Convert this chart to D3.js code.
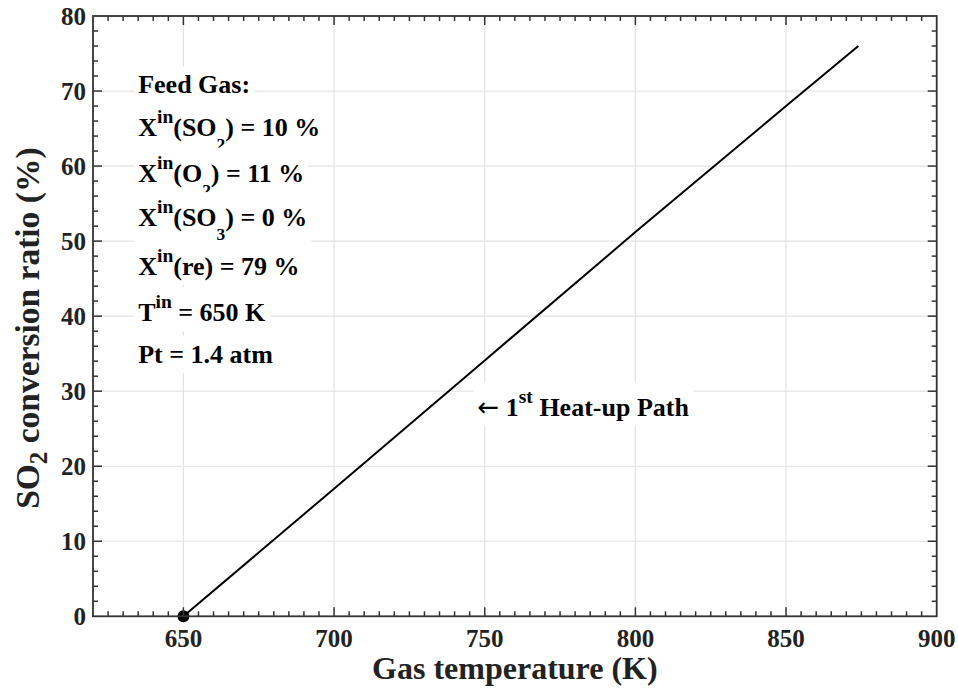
<!DOCTYPE html>
<html>
<head>
<meta charset="utf-8">
<script src="https://cdn.jsdelivr.net/npm/d3@7"></script>
<style>
  html, body { margin: 0; padding: 0; background: #fff; }
  svg { display: block; }
  text { font-family: "Liberation Serif", "Times New Roman", Times, serif; font-weight: bold; }
</style>
</head>
<body>
<svg id="chart" width="958" height="691"></svg>
<script>
// Heat-up path: gas temperature (K) vs SO2 conversion ratio (%)
const temperature = [650, 700, 750, 800, 850, 874];
const conversion  = [0, 17.0, 34.1, 51.2, 68.0, 76.0];

// Inlet state marker
const startPoint = { t: 650, x: 0 };

const xTicks = [650, 700, 750, 800, 850, 900];
const yTicks = [0, 10, 20, 30, 40, 50, 60, 70, 80];

// Feed-gas annotation lines: segments, with sup/sub flags
const feedLines = [
  [{ s: "Feed Gas:" }],
  [{ s: "X" }, { s: "in", sup: true }, { s: "(SO" }, { s: "2", sub: true }, { s: ") = 10 %" }],
  [{ s: "X" }, { s: "in", sup: true }, { s: "(O" }, { s: "2", sub: true }, { s: ") = 11 %" }],
  [{ s: "X" }, { s: "in", sup: true }, { s: "(SO" }, { s: "3", sub: true }, { s: ") = 0 %" }],
  [{ s: "X" }, { s: "in", sup: true }, { s: "(re) = 79 %" }],
  [{ s: "T" }, { s: "in", sup: true }, { s: " = 650 K" }],
  [{ s: "Pt = 1.4 atm" }]
];
// anchor of each line (temperature, conversion) at text baseline
const feedAnchorT = 635;
const feedAnchorY = [69.7, 64.0, 57.9, 52.0, 45.5, 39.3, 33.8];

const pathLabel = [{ s: "\u2190", arrow: true }, { s: " 1" }, { s: "st", sup: true }, { s: " Heat-up Path" }];
const pathLabelAt = { t: 747.6, x: 26.7 };

const W = 958, H = 691;
const margin = { top: 16, right: 21.3, bottom: 74.7, left: 93 };
const iw = W - margin.left - margin.right;
const ih = H - margin.top - margin.bottom;

const svg = d3.select("#chart");
const g = svg.append("g").attr("transform", `translate(${margin.left},${margin.top})`);

const x = d3.scaleLinear().domain([620, 900]).range([0, iw]);
const y = d3.scaleLinear().domain([0, 80]).range([ih, 0]);

// grid
g.append("g").selectAll("line").data(xTicks.filter(d => d < 900)).join("line")
  .attr("x1", d => x(d)).attr("x2", d => x(d)).attr("y1", 0).attr("y2", ih)
  .attr("stroke", "#e3e3e3").attr("stroke-width", 1.2);
g.append("g").selectAll("line").data(yTicks.filter(d => d > 0 && d < 80)).join("line")
  .attr("x1", 0).attr("x2", iw).attr("y1", d => y(d)).attr("y2", d => y(d))
  .attr("stroke", "#e3e3e3").attr("stroke-width", 1.2);

// data line
const line = d3.line().x((d, i) => x(temperature[i])).y((d, i) => y(conversion[i]));
g.append("path").datum(conversion).attr("d", line)
  .attr("fill", "none").attr("stroke", "#000").attr("stroke-width", 2);

// rich-text label with white backing box
function richLabel(parent, segs, px, py, size) {
  const grp = parent.append("g");
  const rect = grp.append("rect").attr("fill", "#fff");
  const t = grp.append("text").attr("x", px).attr("y", py)
    .attr("font-size", size).attr("fill", "#000");
  let shift = 0;
  segs.forEach(sg => {
    const ts = t.append("tspan").text(sg.s);
    let target = 0, fs = size;
    if (sg.sup) { target = -0.5 * size; fs = 0.75 * size; }
    if (sg.sub) { target = 0.54 * size; fs = 0.67 * size; }
    ts.attr("dy", target - shift).attr("font-size", fs);
    if (sg.arrow) ts.style("font-family", "'DejaVu Sans', sans-serif").style("font-weight", "normal");
    shift = target;
  });
  const bb = t.node().getBBox();
  const pad = 4;
  rect.attr("x", bb.x - pad).attr("y", bb.y - pad)
    .attr("width", bb.width + 2 * pad).attr("height", bb.height + 2 * pad);
  return grp;
}

const annot = g.append("g");
feedLines.forEach((segs, i) => {
  richLabel(annot, segs, x(feedAnchorT), y(feedAnchorY[i]), 26);
});
richLabel(annot, pathLabel, x(pathLabelAt.t), y(pathLabelAt.x), 26);

// start marker
g.append("circle").attr("cx", x(startPoint.t)).attr("cy", y(startPoint.x)).attr("r", 6).attr("fill", "#000");

// ticks (inward, all four sides)
const axisColor = "#333";
const xMinor = d3.range(625, 900, 5).filter(d => d % 50 !== 0);
const yMinor = d3.range(2, 80, 2).filter(d => d % 10 !== 0);
const ticks = g.append("g").attr("stroke", axisColor).attr("stroke-width", 1.5);
function vt(vals, len) {
  ticks.append("g").selectAll("line").data(vals).join("line")
    .attr("x1", d => x(d)).attr("x2", d => x(d)).attr("y1", ih).attr("y2", ih - len);
  ticks.append("g").selectAll("line").data(vals).join("line")
    .attr("x1", d => x(d)).attr("x2", d => x(d)).attr("y1", 0).attr("y2", len);
}
function ht(vals, len) {
  ticks.append("g").selectAll("line").data(vals).join("line")
    .attr("x1", 0).attr("x2", len).attr("y1", d => y(d)).attr("y2", d => y(d));
  ticks.append("g").selectAll("line").data(vals).join("line")
    .attr("x1", iw).attr("x2", iw - len).attr("y1", d => y(d)).attr("y2", d => y(d));
}
vt(xMinor, 5); vt(xTicks.filter(d => d < 900), 9);
ht(yMinor, 5); ht(yTicks.filter(d => d > 0 && d < 80), 9);

// frame
g.append("rect").attr("x", 0).attr("y", 0).attr("width", iw).attr("height", ih)
  .attr("fill", "none").attr("stroke", axisColor).attr("stroke-width", 1.8);

// tick labels
g.append("g").selectAll("text").data(xTicks).join("text")
  .attr("x", d => x(d)).attr("y", ih + 30.5).attr("text-anchor", "middle")
  .attr("font-size", 25).attr("fill", "#222").text(d => d);
g.append("g").selectAll("text").data(yTicks).join("text")
  .attr("x", -7).attr("y", d => y(d)).attr("dy", "0.35em").attr("text-anchor", "end")
  .attr("font-size", 25).attr("fill", "#222").text(d => d);

// axis titles
svg.append("text").attr("x", margin.left + x(760)).attr("y", 679)
  .attr("text-anchor", "middle").attr("font-size", 32).attr("fill", "#222")
  .text("Gas temperature (K)");

const yt = svg.append("text").attr("transform", `translate(39,${margin.top + y(38.4)}) rotate(-90)`)
  .attr("text-anchor", "middle").attr("font-size", 33.5).attr("fill", "#222");
yt.append("tspan").text("SO");
yt.append("tspan").text("2").attr("font-size", 25).attr("dy", 8);
yt.append("tspan").text(" conversion ratio (%)").attr("dy", -8);
</script>
</body>
</html>
